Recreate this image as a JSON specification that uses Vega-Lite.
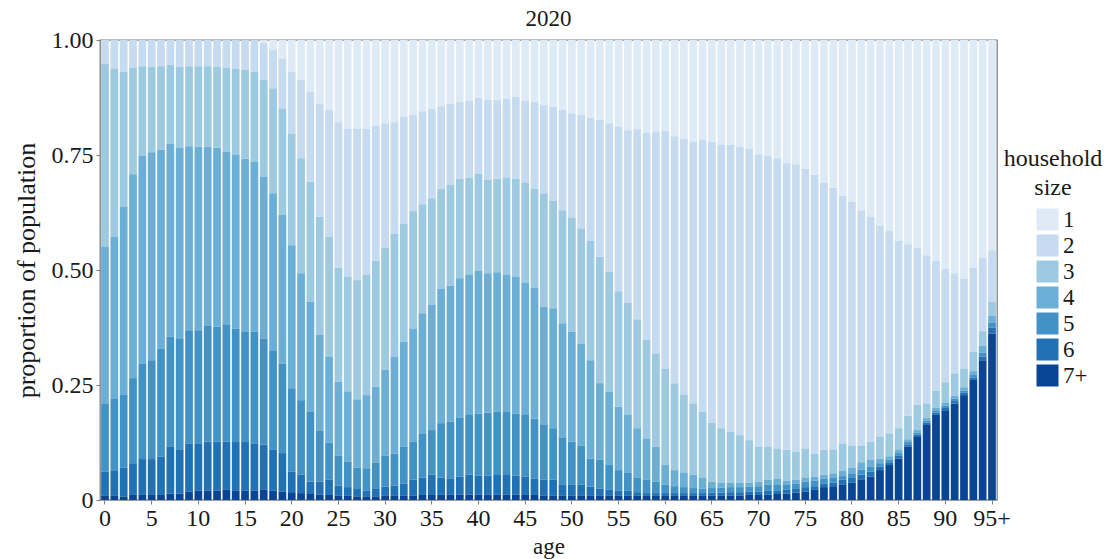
{
  "$schema": "https://vega.github.io/schema/vega-lite/v6.json",
  "width": 897,
  "height": 460,
  "autosize": {"type": "none"},
  "padding": {"left": 100, "top": 40, "right": 108, "bottom": 59},
  "background": "white",
  "title": {"text": "2020", "font": "Liberation Serif", "fontSize": 23, "fontWeight": "normal", "color": "#1a1a1a", "anchor": "middle", "offset": -3},
  "config": {
    "view": {"stroke": "#7f7f7f", "strokeWidth": 1.3},
    "font": "Liberation Serif"
  },
  "data": {"values": [
    {"age":"0","1":0,"2":0.051,"3":0.398,"4":0.341,"5":0.148,"6":0.053,"7+":0.009},
    {"age":"1","1":0,"2":0.062,"3":0.366,"4":0.351,"5":0.158,"6":0.054,"7+":0.009},
    {"age":"2","1":0,"2":0.069,"3":0.293,"4":0.409,"5":0.159,"6":0.063,"7+":0.007},
    {"age":"3","1":0,"2":0.060,"3":0.232,"4":0.443,"5":0.185,"6":0.069,"7+":0.011},
    {"age":"4","1":0,"2":0.057,"3":0.194,"4":0.452,"5":0.208,"6":0.078,"7+":0.011},
    {"age":"5","1":0,"2":0.058,"3":0.186,"4":0.452,"5":0.215,"6":0.078,"7+":0.011},
    {"age":"6","1":0,"2":0.057,"3":0.182,"4":0.432,"5":0.235,"6":0.083,"7+":0.011},
    {"age":"7","1":0,"2":0.054,"3":0.171,"4":0.420,"5":0.239,"6":0.102,"7+":0.014},
    {"age":"8","1":0,"2":0.058,"3":0.177,"4":0.415,"5":0.240,"6":0.096,"7+":0.014},
    {"age":"9","1":0,"2":0.057,"3":0.174,"4":0.400,"5":0.246,"6":0.105,"7+":0.018},
    {"age":"10","1":0,"2":0.057,"3":0.175,"4":0.399,"5":0.246,"6":0.103,"7+":0.020},
    {"age":"11","1":0,"2":0.057,"3":0.175,"4":0.390,"5":0.251,"6":0.107,"7+":0.020},
    {"age":"12","1":0,"2":0.058,"3":0.176,"4":0.389,"5":0.250,"6":0.107,"7+":0.020},
    {"age":"13","1":0,"2":0.060,"3":0.183,"4":0.375,"5":0.255,"6":0.105,"7+":0.022},
    {"age":"14","1":0,"2":0.062,"3":0.188,"4":0.377,"5":0.247,"6":0.105,"7+":0.021},
    {"age":"15","1":0,"2":0.065,"3":0.193,"4":0.376,"5":0.240,"6":0.106,"7+":0.020},
    {"age":"16","1":0,"2":0.069,"3":0.196,"4":0.369,"5":0.243,"6":0.103,"7+":0.020},
    {"age":"17","1":0.007,"2":0.080,"3":0.210,"4":0.352,"5":0.231,"6":0.098,"7+":0.022},
    {"age":"18","1":0.022,"2":0.083,"3":0.228,"4":0.343,"5":0.215,"6":0.089,"7+":0.020},
    {"age":"19","1":0.040,"2":0.109,"3":0.231,"4":0.323,"5":0.195,"6":0.084,"7+":0.018},
    {"age":"20","1":0.069,"2":0.134,"3":0.243,"4":0.311,"5":0.181,"6":0.045,"7+":0.017},
    {"age":"21","1":0.087,"2":0.170,"3":0.250,"4":0.276,"5":0.162,"6":0.040,"7+":0.015},
    {"age":"22","1":0.112,"2":0.196,"3":0.261,"4":0.239,"5":0.152,"6":0.027,"7+":0.013},
    {"age":"23","1":0.138,"2":0.246,"3":0.256,"4":0.210,"5":0.110,"6":0.028,"7+":0.012},
    {"age":"24","1":0.152,"2":0.276,"3":0.260,"4":0.187,"5":0.081,"6":0.033,"7+":0.011},
    {"age":"25","1":0.179,"2":0.316,"3":0.248,"4":0.161,"5":0.065,"6":0.021,"7+":0.010},
    {"age":"26","1":0.193,"2":0.321,"3":0.250,"4":0.153,"5":0.055,"6":0.019,"7+":0.009},
    {"age":"27","1":0.193,"2":0.329,"3":0.259,"4":0.149,"5":0.046,"6":0.016,"7+":0.008},
    {"age":"28","1":0.193,"2":0.317,"3":0.262,"4":0.159,"5":0.049,"6":0.012,"7+":0.008},
    {"age":"29","1":0.186,"2":0.294,"3":0.274,"4":0.165,"5":0.057,"6":0.016,"7+":0.008},
    {"age":"30","1":0.181,"2":0.270,"3":0.266,"4":0.187,"5":0.067,"6":0.020,"7+":0.009},
    {"age":"31","1":0.179,"2":0.243,"3":0.266,"4":0.211,"5":0.070,"6":0.022,"7+":0.009},
    {"age":"32","1":0.167,"2":0.232,"3":0.257,"4":0.228,"5":0.080,"6":0.026,"7+":0.010},
    {"age":"33","1":0.163,"2":0.209,"3":0.255,"4":0.246,"5":0.083,"6":0.034,"7+":0.010},
    {"age":"34","1":0.155,"2":0.202,"3":0.237,"4":0.261,"5":0.096,"6":0.038,"7+":0.011},
    {"age":"35","1":0.150,"2":0.194,"3":0.231,"4":0.273,"5":0.097,"6":0.044,"7+":0.011},
    {"age":"36","1":0.144,"2":0.180,"3":0.216,"4":0.293,"5":0.118,"6":0.037,"7+":0.012},
    {"age":"37","1":0.139,"2":0.175,"3":0.220,"4":0.296,"5":0.123,"6":0.035,"7+":0.012},
    {"age":"38","1":0.135,"2":0.167,"3":0.216,"4":0.303,"5":0.128,"6":0.039,"7+":0.012},
    {"age":"39","1":0.132,"2":0.167,"3":0.211,"4":0.305,"5":0.130,"6":0.043,"7+":0.012},
    {"age":"40","1":0.126,"2":0.164,"3":0.212,"4":0.310,"5":0.135,"6":0.041,"7+":0.012},
    {"age":"41","1":0.130,"2":0.174,"3":0.203,"4":0.303,"5":0.137,"6":0.041,"7+":0.012},
    {"age":"42","1":0.130,"2":0.172,"3":0.203,"4":0.303,"5":0.136,"6":0.044,"7+":0.012},
    {"age":"43","1":0.128,"2":0.171,"3":0.211,"4":0.298,"5":0.136,"6":0.044,"7+":0.012},
    {"age":"44","1":0.124,"2":0.178,"3":0.213,"4":0.297,"5":0.135,"6":0.041,"7+":0.012},
    {"age":"45","1":0.132,"2":0.178,"3":0.217,"4":0.288,"5":0.134,"6":0.040,"7+":0.011},
    {"age":"46","1":0.135,"2":0.189,"3":0.215,"4":0.284,"5":0.130,"6":0.036,"7+":0.011},
    {"age":"47","1":0.142,"2":0.191,"3":0.247,"4":0.257,"5":0.119,"6":0.034,"7+":0.010},
    {"age":"48","1":0.145,"2":0.205,"3":0.233,"4":0.261,"5":0.112,"6":0.034,"7+":0.010},
    {"age":"49","1":0.152,"2":0.218,"3":0.246,"4":0.248,"5":0.102,"6":0.024,"7+":0.010},
    {"age":"50","1":0.160,"2":0.226,"3":0.248,"4":0.239,"5":0.093,"6":0.024,"7+":0.010},
    {"age":"51","1":0.163,"2":0.247,"3":0.250,"4":0.222,"5":0.085,"6":0.024,"7+":0.009},
    {"age":"52","1":0.169,"2":0.268,"3":0.259,"4":0.214,"5":0.061,"6":0.020,"7+":0.009},
    {"age":"53","1":0.174,"2":0.297,"3":0.275,"4":0.166,"5":0.063,"6":0.016,"7+":0.009},
    {"age":"54","1":0.181,"2":0.322,"3":0.261,"4":0.160,"5":0.053,"6":0.014,"7+":0.009},
    {"age":"55","1":0.188,"2":0.358,"3":0.251,"4":0.138,"5":0.045,"6":0.011,"7+":0.009},
    {"age":"56","1":0.196,"2":0.376,"3":0.243,"4":0.125,"5":0.040,"6":0.011,"7+":0.009},
    {"age":"57","1":0.194,"2":0.413,"3":0.237,"4":0.107,"5":0.032,"6":0.008,"7+":0.009},
    {"age":"58","1":0.201,"2":0.451,"3":0.214,"4":0.090,"5":0.029,"6":0.006,"7+":0.009},
    {"age":"59","1":0.200,"2":0.481,"3":0.203,"4":0.076,"5":0.025,"6":0.006,"7+":0.009},
    {"age":"60","1":0.198,"2":0.516,"3":0.210,"4":0.043,"5":0.018,"6":0.006,"7+":0.009},
    {"age":"61","1":0.210,"2":0.536,"3":0.189,"4":0.035,"5":0.015,"6":0.006,"7+":0.009},
    {"age":"62","1":0.214,"2":0.557,"3":0.169,"4":0.032,"5":0.013,"6":0.006,"7+":0.009},
    {"age":"63","1":0.222,"2":0.568,"3":0.155,"4":0.029,"5":0.011,"6":0.006,"7+":0.009},
    {"age":"64","1":0.217,"2":0.591,"3":0.143,"4":0.024,"5":0.010,"6":0.006,"7+":0.009},
    {"age":"65","1":0.221,"2":0.611,"3":0.128,"4":0.014,"5":0.010,"6":0.006,"7+":0.010},
    {"age":"66","1":0.227,"2":0.617,"3":0.118,"4":0.011,"5":0.011,"6":0.006,"7+":0.010},
    {"age":"67","1":0.228,"2":0.624,"3":0.110,"4":0.010,"5":0.011,"6":0.007,"7+":0.010},
    {"age":"68","1":0.232,"2":0.627,"3":0.103,"4":0.010,"5":0.011,"6":0.007,"7+":0.010},
    {"age":"69","1":0.236,"2":0.634,"3":0.092,"4":0.009,"5":0.011,"6":0.007,"7+":0.011},
    {"age":"70","1":0.249,"2":0.635,"3":0.076,"4":0.010,"5":0.012,"6":0.007,"7+":0.011},
    {"age":"71","1":0.251,"2":0.633,"3":0.072,"4":0.011,"5":0.013,"6":0.008,"7+":0.012},
    {"age":"72","1":0.257,"2":0.631,"3":0.066,"4":0.012,"5":0.013,"6":0.008,"7+":0.013},
    {"age":"73","1":0.268,"2":0.623,"3":0.067,"4":0.008,"5":0.012,"6":0.008,"7+":0.014},
    {"age":"74","1":0.270,"2":0.625,"3":0.061,"4":0.008,"5":0.012,"6":0.008,"7+":0.016},
    {"age":"75","1":0.280,"2":0.608,"3":0.063,"4":0.009,"5":0.012,"6":0.010,"7+":0.018},
    {"age":"76","1":0.293,"2":0.606,"3":0.051,"4":0.008,"5":0.012,"6":0.008,"7+":0.022},
    {"age":"77","1":0.310,"2":0.581,"3":0.054,"4":0.009,"5":0.010,"6":0.008,"7+":0.028},
    {"age":"78","1":0.321,"2":0.569,"3":0.052,"4":0.010,"5":0.010,"6":0.008,"7+":0.030},
    {"age":"79","1":0.339,"2":0.538,"3":0.060,"4":0.011,"5":0.008,"6":0.010,"7+":0.034},
    {"age":"80","1":0.352,"2":0.530,"3":0.048,"4":0.012,"5":0.010,"6":0.010,"7+":0.038},
    {"age":"81","1":0.370,"2":0.512,"3":0.036,"4":0.016,"5":0.011,"6":0.010,"7+":0.045},
    {"age":"82","1":0.384,"2":0.489,"3":0.039,"4":0.016,"5":0.010,"6":0.011,"7+":0.051},
    {"age":"83","1":0.404,"2":0.458,"3":0.048,"4":0.010,"5":0.007,"6":0.008,"7+":0.065},
    {"age":"84","1":0.415,"2":0.440,"3":0.050,"4":0.007,"5":0.006,"6":0.006,"7+":0.076},
    {"age":"85","1":0.437,"2":0.407,"3":0.046,"4":0.008,"5":0.006,"6":0.006,"7+":0.090},
    {"age":"86","1":0.444,"2":0.373,"3":0.051,"4":0.006,"5":0.005,"6":0.005,"7+":0.116},
    {"age":"87","1":0.452,"2":0.341,"3":0.055,"4":0.006,"5":0.004,"6":0.005,"7+":0.137},
    {"age":"88","1":0.468,"2":0.322,"3":0.032,"4":0.006,"5":0.004,"6":0.005,"7+":0.163},
    {"age":"89","1":0.480,"2":0.283,"3":0.037,"4":0.005,"5":0.005,"6":0.005,"7+":0.185},
    {"age":"90","1":0.498,"2":0.246,"3":0.044,"4":0.007,"5":0.005,"6":0.005,"7+":0.195},
    {"age":"91","1":0.507,"2":0.218,"3":0.049,"4":0.006,"5":0.005,"6":0.005,"7+":0.210},
    {"age":"92","1":0.519,"2":0.195,"3":0.041,"4":0.007,"5":0.005,"6":0.005,"7+":0.228},
    {"age":"93","1":0.495,"2":0.183,"3":0.042,"4":0.008,"5":0.006,"6":0.005,"7+":0.261},
    {"age":"94","1":0.473,"2":0.160,"3":0.032,"4":0.015,"5":0.008,"6":0.008,"7+":0.304},
    {"age":"95+","1":0.457,"2":0.112,"3":0.031,"4":0.015,"5":0.010,"6":0.013,"7+":0.362}
  ]},
  "transform": [
    {"fold": ["1", "2", "3", "4", "5", "6", "7+"], "as": ["size", "share"]}
  ],
  "mark": {"type": "bar", "stroke": null},
  "encoding": {
    "x": {
      "field": "age", "type": "ordinal", "sort": null,
      "scale": {"paddingInner": 0.17, "paddingOuter": 0.12},
      "axis": {
        "values": ["0","5","10","15","20","25","30","35","40","45","50","55","60","65","70","75","80","85","90","95+"],
        "title": "age", "labelAngle": 0, "domain": false,
        "tickColor": "#7f7f7f", "tickSize": 4, "labelPadding": 2,
        "labelFont": "Liberation Serif", "labelFontSize": 24, "labelColor": "#1a1a1a",
        "titleFont": "Liberation Serif", "titleFontSize": 23, "titleFontWeight": "normal", "titleColor": "#1a1a1a", "titlePadding": 5
      }
    },
    "y": {
      "field": "share", "type": "quantitative", "stack": "zero",
      "scale": {"domain": [0, 1], "nice": false},
      "axis": {
        "values": [0, 0.25, 0.5, 0.75, 1],
        "labelExpr": "datum.value == 0 ? '0' : format(datum.value, '.2f')",
        "title": "proportion of population", "grid": false, "domain": false,
        "tickColor": "#7f7f7f", "tickSize": 4, "labelPadding": 3,
        "labelFont": "Liberation Serif", "labelFontSize": 24, "labelColor": "#1a1a1a",
        "titleFont": "Liberation Serif", "titleFontSize": 26, "titleFontWeight": "normal", "titleColor": "#1a1a1a", "titlePadding": 12
      }
    },
    "color": {
      "field": "size", "type": "nominal",
      "scale": {"domain": ["1","2","3","4","5","6","7+"], "range": ["#deebf7","#c6dbef","#9ecae1","#6baed6","#4292c6","#2171b5","#084594"]},
      "legend": {
        "title": ["household", "size"],
        "orient": "none", "legendX": 904, "legendY": 107,
        "titleFont": "Liberation Serif", "titleFontSize": 24, "titleFontWeight": "normal", "titleColor": "#1a1a1a",
        "titleAlign": "center", "titleAnchor": "middle", "titlePadding": 8, "titleLineHeight": 29,
        "labelFont": "Liberation Serif", "labelFontSize": 23, "labelColor": "#1a1a1a", "labelOffset": 4,
        "symbolType": "square", "symbolSize": 484, "symbolStrokeWidth": 0, "symbolOpacity": 1, "symbolOffset": 17,
        "rowPadding": 2, "padding": 0
      }
    },
    "order": {"field": "size", "sort": "descending"}
  }
}
